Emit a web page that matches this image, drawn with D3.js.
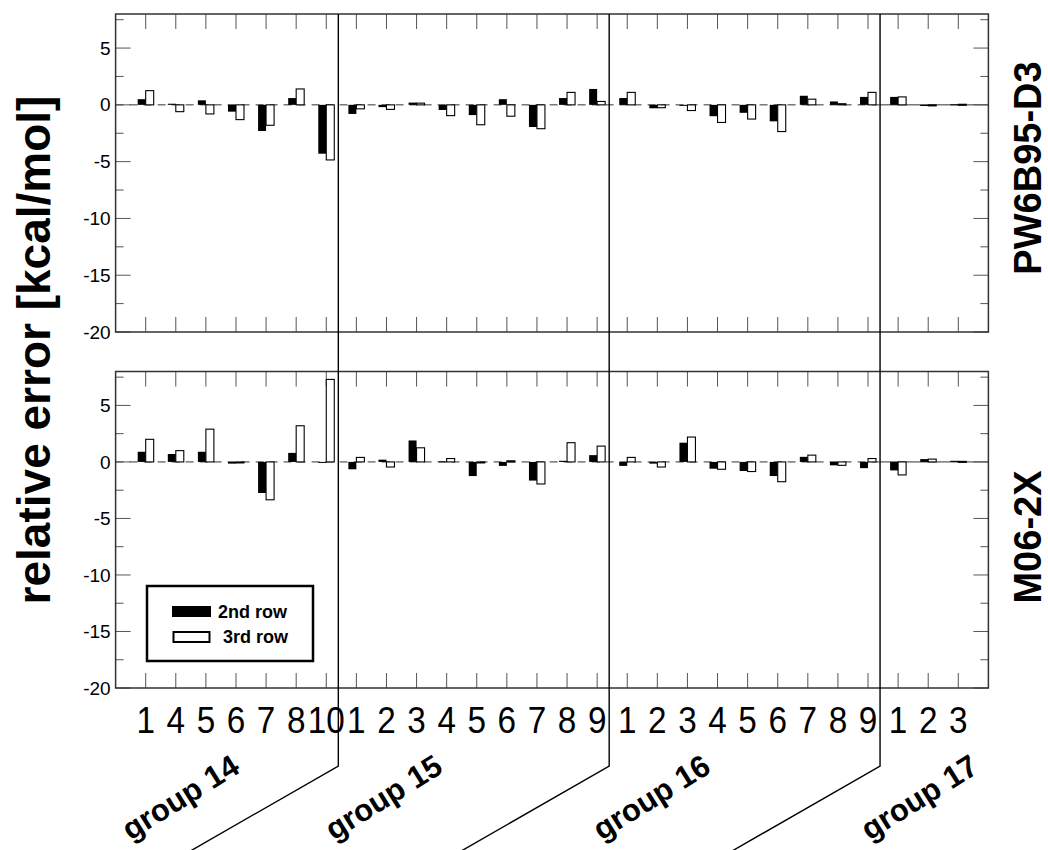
<!DOCTYPE html>
<html>
<head>
<meta charset="utf-8">
<script src="https://cdn.jsdelivr.net/npm/d3@7"></script>
<style>
  body { margin: 0; background: #fff; }
  text { font-family: "Liberation Sans", Arial, sans-serif; fill: #000; }
</style>
</head>
<body>
<div id="vis-container"></div>
<script>
// categories (element index inside each group)
let categories = ["1","4","5","6","7","8","10",
  "1","2","3","4","5","6","7","8","9",
  "1","2","3","4","5","6","7","8","9",
  "1","2","3"];
let groups = ["group 14", "group 15", "group 16", "group 17"];
let groupSizes = [7, 9, 9, 3];
let groupLabelPos = [2.15, 8.9, 17.8, 26.7];

let series = ["2nd row", "3rd row"];
let methods = ["PW6B95-D3", "M06-2X"];

// PW6B95-D3 relative errors
let pw2nd = [0.5, 0.1, 0.4, -0.6, -2.3, 0.6, -4.3,
  -0.8, -0.2, 0.2, -0.45, -0.9, 0.5, -1.95, 0.6, 1.4,
  0.6, -0.3, -0.05, -1.0, -0.7, -1.45, 0.8, 0.3, 0.7,
  0.7, -0.1, 0.05];
let pw3rd = [1.25, -0.6, -0.8, -1.3, -1.8, 1.4, -4.85,
  -0.35, -0.4, 0.15, -0.95, -1.75, -1.0, -2.1, 1.1, 0.3,
  1.1, -0.25, -0.5, -1.55, -1.25, -2.35, 0.5, 0.1, 1.1,
  0.7, -0.05, 0.05];

// M06-2X relative errors
let m06_2nd = [0.9, 0.7, 0.9, -0.15, -2.75, 0.8, 0.0,
  -0.65, 0.2, 1.9, 0.05, -1.25, -0.35, -1.65, 0.1, 0.6,
  -0.35, -0.15, 1.7, -0.6, -0.8, -1.25, 0.45, -0.3, -0.55,
  -0.75, 0.25, 0.1];
let m06_3rd = [2.0, 1.0, 2.9, -0.05, -3.35, 3.2, 7.3,
  0.4, -0.45, 1.25, 0.3, -0.05, 0.1, -1.95, 1.7, 1.4,
  0.4, -0.45, 2.2, -0.65, -0.85, -1.75, 0.6, -0.3, 0.3,
  -1.15, 0.25, 0.05];

let yTicks = d3.range(-20, 8.01, 2.5);

//svg container
let W = 1048, H = 850;
let svg = d3.select("#vis-container")
  .append("svg")
  .attr("width", W)
  .attr("height", H);

svg.append("rect").attr("width", W).attr("height", H).attr("fill", "#fff");

//x scale shared by both panels
let x = d3.scaleLinear()
  .domain([0, categories.length + 1])
  .range([115.6, 988.4]);

let bw = 8;

let panels = [
  {name: methods[0], top: 14, bottom: 332, s2: pw2nd, s3: pw3rd, labelY: 168},
  {name: methods[1], top: 371.5, bottom: 688, s2: m06_2nd, s3: m06_3rd, labelY: 537}
];

// separator positions after each group (except last)
let bounds = [];
let acc = 0;
groupSizes.slice(0, -1).forEach(n => { acc += n; bounds.push(acc + 0.4); });

panels.forEach(p => {
  let y = d3.scaleLinear().domain([-20, 8]).range([p.bottom, p.top]);
  let g = svg.append("g");

  //zero line: dashed, solid in last group
  let lastB = bounds[bounds.length - 1];
  g.append("line")
    .attr("x1", x(0)).attr("x2", x(lastB))
    .attr("y1", y(0)).attr("y2", y(0))
    .attr("stroke", "#333").attr("stroke-width", 1)
    .attr("stroke-dasharray", "8,6");
  g.append("line")
    .attr("x1", x(lastB)).attr("x2", x(categories.length + 1))
    .attr("y1", y(0)).attr("y2", y(0))
    .attr("stroke", "#333").attr("stroke-width", 1);

  //y ticks left and right (inside)
  yTicks.forEach(t => {
    let len = (t % 5 === 0) ? 15 : 8;
    g.append("line")
      .attr("x1", x(0)).attr("x2", x(0) + len)
      .attr("y1", y(t)).attr("y2", y(t))
      .attr("stroke", "#555").attr("stroke-width", 1);
    g.append("line")
      .attr("x1", x(categories.length + 1)).attr("x2", x(categories.length + 1) - len)
      .attr("y1", y(t)).attr("y2", y(t))
      .attr("stroke", "#555").attr("stroke-width", 1);
  });

  //y labels (plain hyphen for negatives)
  let yAxis = d3.axisLeft(y)
    .tickValues(yTicks.filter(t => t % 5 === 0))
    .tickSize(0)
    .tickPadding(5)
    .tickFormat(d => String(d));
  let ya = g.append("g")
    .attr("transform", `translate(${x(0)},0)`)
    .call(yAxis);
  ya.select(".domain").remove();
  ya.selectAll("text")
    .attr("font-size", "19px")
    .attr("font-family", "Liberation Sans, Arial, sans-serif")
    .attr("fill", "#000");

  //x ticks top and bottom (inside)
  categories.forEach((c, i) => {
    g.append("line")
      .attr("x1", x(i + 1)).attr("x2", x(i + 1))
      .attr("y1", p.top).attr("y2", p.top + 15)
      .attr("stroke", "#555").attr("stroke-width", 1);
    g.append("line")
      .attr("x1", x(i + 1)).attr("x2", x(i + 1))
      .attr("y1", p.bottom).attr("y2", p.bottom - 15)
      .attr("stroke", "#555").attr("stroke-width", 1);
  });

  //bars 2nd row (black, left of tick)
  g.selectAll(".b2")
    .data(p.s2)
    .enter()
    .append("rect")
    .attr("class", "b2")
    .attr("x", (d, i) => x(i + 1) - bw)
    .attr("y", d => Math.min(y(d), y(0)))
    .attr("width", bw)
    .attr("height", d => Math.max(1, Math.abs(y(d) - y(0))))
    .attr("fill", "#000");

  //bars 3rd row (white, right of tick)
  g.selectAll(".b3")
    .data(p.s3)
    .enter()
    .append("rect")
    .attr("class", "b3")
    .attr("x", (d, i) => x(i + 1))
    .attr("y", d => Math.min(y(d), y(0)))
    .attr("width", bw)
    .attr("height", d => Math.max(1, Math.abs(y(d) - y(0))))
    .attr("fill", "#fff")
    .attr("stroke", "#000")
    .attr("stroke-width", 1.1);

  //frame
  g.append("rect")
    .attr("x", x(0)).attr("y", p.top)
    .attr("width", x(categories.length + 1) - x(0))
    .attr("height", p.bottom - p.top)
    .attr("fill", "none")
    .attr("stroke", "#333")
    .attr("stroke-width", 1.5);

  //method label on right
  svg.append("text")
    .attr("transform", `translate(1041,${p.labelY}) rotate(-90)`)
    .attr("text-anchor", "middle")
    .attr("font-size", "38px")
    .attr("font-weight", "bold")
    .text(p.name);
});

//group separators with slanted leaders
bounds.forEach(b => {
  let bx = x(b);
  let ky = 766;
  svg.append("path")
    .attr("d", `M${bx},14 L${bx},${ky} L${bx - 181},${ky + 104}`)
    .attr("fill", "none")
    .attr("stroke", "#000")
    .attr("stroke-width", 1.4);
});

//category labels (slightly condensed)
svg.selectAll(".cat")
  .data(categories)
  .enter()
  .append("text")
  .attr("class", "cat")
  .attr("transform", (d, i) => `translate(${x(i + 1)},733) scale(0.9,1)`)
  .attr("text-anchor", "middle")
  .attr("font-size", "37px")
  .text(d => d);

//group labels
svg.selectAll(".grp")
  .data(groups)
  .enter()
  .append("text")
  .attr("class", "grp")
  .attr("transform", (d, i) => `translate(${x(groupLabelPos[i])},797) rotate(-32)`)
  .attr("text-anchor", "middle")
  .attr("dy", "0.35em")
  .attr("font-size", "31px")
  .attr("font-weight", "bold")
  .text(d => d);

//y axis title
svg.append("text")
  .attr("transform", "translate(50,350) rotate(-90)")
  .attr("text-anchor", "middle")
  .attr("font-size", "46px")
  .attr("font-weight", "bold")
  .text("relative error [kcal/mol]");

//legend
let gLegend = svg.append("g");
gLegend.append("rect")
  .attr("x", 147).attr("y", 586)
  .attr("width", 166).attr("height", 75)
  .attr("fill", "#fff")
  .attr("stroke", "#000")
  .attr("stroke-width", 2.5);
gLegend.append("rect")
  .attr("x", 172).attr("y", 606)
  .attr("width", 39).attr("height", 11)
  .attr("fill", "#000");
gLegend.append("rect")
  .attr("x", 173.5).attr("y", 632)
  .attr("width", 36).attr("height", 10)
  .attr("fill", "#fff")
  .attr("stroke", "#000")
  .attr("stroke-width", 2);
gLegend.append("text")
  .attr("x", 218).attr("y", 618)
  .attr("font-size", "18px").attr("font-weight", "bold")
  .text(series[0]);
gLegend.append("text")
  .attr("x", 223).attr("y", 643)
  .attr("font-size", "18px").attr("font-weight", "bold")
  .text(series[1]);
</script>
</body>
</html>
